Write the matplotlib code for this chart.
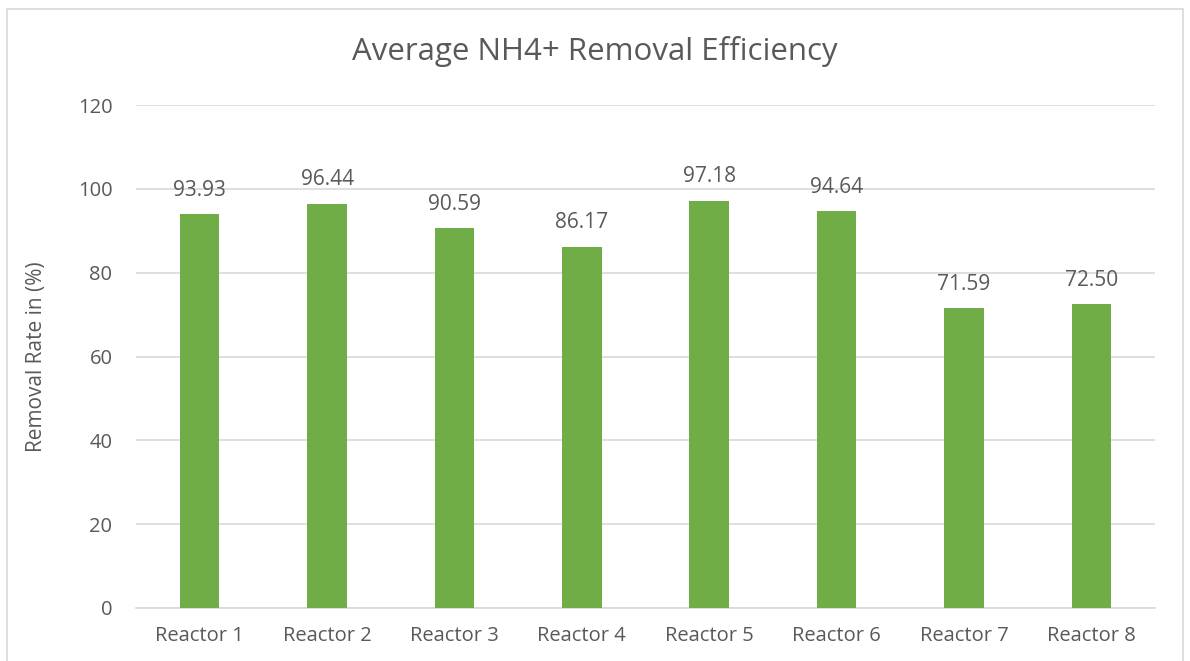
import matplotlib.pyplot as plt
from matplotlib.patches import Rectangle

# Datos del gráfico
reactores = ['Reactor 1', 'Reactor 2', 'Reactor 3', 'Reactor 4',
             'Reactor 5', 'Reactor 6', 'Reactor 7', 'Reactor 8']
eficiencia = [93.93, 96.44, 90.59, 86.17, 97.18, 94.64, 71.59, 72.50]
marcas_y = [0, 20, 40, 60, 80, 100, 120]

gris_texto = '#595959'
plt.rcParams['font.family'] = ['Open Sans', 'DejaVu Sans']

fig = plt.figure(figsize=(11.9, 6.61), dpi=100)
ax = fig.add_axes([0.1143, 0.0802, 0.8563, 0.7609])

# Marco exterior del gráfico
fig.patches.append(Rectangle((7 / 1190, -0.05), 1176 / 1190, 1.05 - 9 / 661,
                             transform=fig.transFigure, fill=False,
                             edgecolor='#d9d9d9', linewidth=1.2))

x = range(len(reactores))
barras = ax.bar(x, eficiencia, width=0.31, color='#70AD47', zorder=3)
for xi, v in zip(x, eficiencia):
    ax.text(xi, v + 3.2, f'{v:.2f}', ha='center', va='bottom',
            fontsize=15, color=gris_texto)

ax.set_xlim(-0.5, len(reactores) - 0.5)
ax.set_ylim(0, 120)
ax.set_yticks(marcas_y)
ax.set_xticks(list(x))
ax.set_xticklabels(reactores)
ax.tick_params(axis='both', length=0, labelsize=14.5, labelcolor=gris_texto)
ax.tick_params(axis='y', pad=17)
ax.tick_params(axis='x', pad=13)
ax.grid(axis='y', color='#d9d9d9', linewidth=1.2, zorder=0)
for lado in ['top', 'right', 'left']:
    ax.spines[lado].set_visible(False)
ax.spines['bottom'].set_color('#d9d9d9')
ax.spines['bottom'].set_linewidth(1.2)

ax.set_ylabel('Removal Rate in (%)', fontsize=15, color=gris_texto, labelpad=22)
fig.text(0.5, 0.922, 'Average NH4+ Removal Efficiency', ha='center',
         va='center', fontsize=22.5, color=gris_texto)

fig.savefig('out.png', dpi=100)
